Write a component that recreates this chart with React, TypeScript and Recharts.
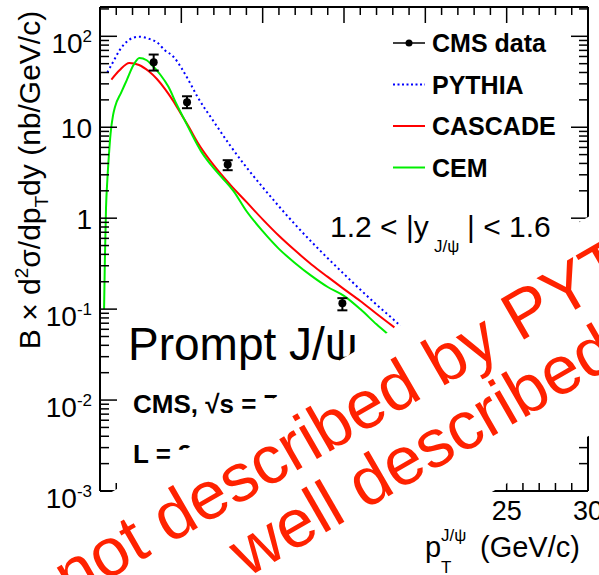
import {
  ComposedChart, Line, Scatter, ErrorBar, XAxis, YAxis, Legend,
} from 'recharts'

// CMS data points (prompt J/psi, 1.2 < |y| < 1.6)
const cmsPt = [3.3, 5.35, 7.85, 14.9]
const cmsXsec = [52, 18.8, 3.9, 0.116]
const cmsErrLow = [10, 2.6, 0.53, 0.019]
const cmsErrHigh = [11, 3.1, 0.44, 0.016]

// PYTHIA prediction
const pythiaPt = [0.45, 0.92, 1.2, 1.64, 2.0, 2.4, 3.0, 3.5, 4.0, 4.5, 5.0, 5.5, 6.0, 7.0, 8.0, 9.0, 10.0, 11.0, 12.0, 13.0, 14.0, 15.0, 16.0, 17.0, 18.0, 18.7]
const pythiaXsec = [40, 57, 70, 87, 96, 99, 94, 86, 70, 60, 45, 31.5, 21.5, 11.5, 6.3, 3.63, 2.19, 1.35, 0.85, 0.55, 0.363, 0.243, 0.164, 0.112, 0.078, 0.06]

// CASCADE prediction
const cascadePt = [0.7, 1.2, 1.8, 2.4, 3.0, 3.5, 4.0, 4.5, 5.0, 5.5, 6.0, 7.0, 8.0, 9.0, 10.0, 11.0, 12.0, 13.0, 14.0, 15.0, 16.0, 17.0, 18.1]
const cascadeXsec = [33.4, 42.3, 51, 48.4, 41.2, 33.9, 26.3, 19.5, 13.8, 9.8, 6.8, 3.8, 2.34, 1.51, 0.97, 0.64, 0.44, 0.31, 0.226, 0.166, 0.123, 0.089, 0.063]

// CEM prediction
const cemPt = [0.25, 0.3, 0.37, 0.45, 0.55, 0.65, 0.8, 0.92, 1.3, 1.64, 2.05, 2.42, 2.87, 3.2, 3.7, 4.2, 4.7, 5.2, 5.7, 6.2, 6.8, 7.5, 8.2, 9.0, 10.0, 11.0, 12.0, 13.0, 14.0, 15.0, 16.0, 17.0, 17.7]
const cemXsec = [0.1, 0.35, 1.3, 2.6, 5, 8.5, 13.5, 16.7, 24, 32.8, 48, 57.8, 54.5, 48, 38, 28, 18, 12, 8, 5.5, 3.9, 2.8, 2.0, 1.2, 0.72, 0.46, 0.32, 0.232, 0.175, 0.14, 0.1, 0.068, 0.053]

// axes
const xTicks = Array.from({ length: 31 }, (_, i) => i)
const xTickLabels = ['0', '5', '10', '15', '20', '25', '30']
const yMajor = [0.001, 0.01, 0.1, 1, 10, 100]
const yMajorBase = ['10', '10', '10', '1', '10', '10']
const yMajorExp = ['-3', '-2', '-1', '', '', '2']
const yTicks = yMajor.flatMap(d => [1, 2, 3, 4, 5, 6, 7, 8, 9].map(m => m * d)).filter(v => v <= 210)

const legendItems = ['CMS data', 'PYTHIA', 'CASCADE', 'CEM']

const FONT = '"Liberation Sans", Arial, Helvetica, sans-serif'

const cmsData = cmsPt.map((x, i) => ({ x, y: cmsXsec[i], err: [cmsErrLow[i], cmsErrHigh[i]] }))
const pythiaData = pythiaPt.map((x, i) => ({ x, y: pythiaXsec[i] }))
const cascadeData = cascadePt.map((x, i) => ({ x, y: cascadeXsec[i] }))
const cemData = cemPt.map((x, i) => ({ x, y: cemXsec[i] }))

const isMajorY = (v: number) => Math.abs(Math.log10(v) - Math.round(Math.log10(v))) < 1e-6

function BottomTick(props: any) {
  const { x, y, payload } = props
  const v = payload.value
  const major = v % 5 === 0
  return (
    <g>
      <line x1={x} x2={x} y1={y} y2={y - (major ? 16 : 8)} stroke="#000" strokeWidth={1.5} />
      {major && (
        <text x={x} y={y + 29} textAnchor="middle" fontSize={27} fontFamily={FONT} fill="#000">
          {xTickLabels[v / 5]}
        </text>
      )}
    </g>
  )
}

function TopTick(props: any) {
  const { x, y, payload } = props
  const major = payload.value % 5 === 0
  return <line x1={x} x2={x} y1={y} y2={y + (major ? 16 : 8)} stroke="#000" strokeWidth={1.5} />
}

function LeftTick(props: any) {
  const { x, y, payload } = props
  const v = payload.value
  const major = isMajorY(v)
  const idx = yMajor.findIndex(m => Math.abs(m - v) < m * 1e-6)
  const exp = idx >= 0 ? yMajorExp[idx] : ''
  return (
    <g>
      <line x1={x} x2={x + (major ? 17 : 9)} y1={y} y2={y} stroke="#000" strokeWidth={1.5} />
      {idx >= 0 && (
        <text x={x - 8} y={y + (exp ? 17 : 11)} textAnchor="end" fontSize={28} fontFamily={FONT} fill="#000">
          {yMajorBase[idx]}
          {exp && <tspan fontSize={17} dy={-11}>{exp}</tspan>}
        </text>
      )}
    </g>
  )
}

function RightTick(props: any) {
  const { x, y, payload } = props
  const major = isMajorY(payload.value)
  return <line x1={x} x2={x - (major ? 17 : 9)} y1={y} y2={y} stroke="#000" strokeWidth={1.5} />
}

function LegendBox() {
  const colors = ['#000', '#0000ff', '#ff0000', '#00ee00']
  return (
    <svg width={214} height={170} style={{ display: 'block' }}>
      {legendItems.map((name, i) => {
        const cy = 23 + i * 41.5
        return (
          <g key={name}>
            <line x1={8} x2={40} y1={cy} y2={cy} stroke={colors[i]} strokeWidth={i === 0 ? 1.5 : 2}
              strokeDasharray={i === 1 ? '2 2.5' : undefined} />
            {i === 0 && <circle cx={24} cy={cy} r={3.5} fill="#000" />}
            <text x={47} y={cy + 9} fontSize={25} fontWeight="bold" fontFamily={FONT} fill="#000">{name}</text>
          </g>
        )
      })}
    </svg>
  )
}

export default function App() {
  return (
    <div style={{ position: 'absolute', left: 0, top: 0, width: 599, height: 575, overflow: 'hidden', background: '#fff', fontFamily: FONT }}>
      <ComposedChart width={599} height={575} margin={{ top: 0, right: 0, left: 0, bottom: 0 }}>
        <XAxis xAxisId="b" type="number" dataKey="x" domain={[0, 30]} ticks={xTicks} interval={0}
          allowDataOverflow height={84} tickSize={0} tickMargin={0} tickLine={false}
          axisLine={{ stroke: '#000', strokeWidth: 2 }} tick={<BottomTick />} />
        <XAxis xAxisId="t" orientation="top" type="number" dataKey="x" domain={[0, 30]} ticks={xTicks} interval={0}
          allowDataOverflow height={7} tickSize={0} tickMargin={0} tickLine={false}
          axisLine={{ stroke: '#000', strokeWidth: 2 }} tick={<TopTick />} />
        <YAxis yAxisId="l" scale="log" type="number" domain={[0.001, 210]} ticks={yTicks} interval={0}
          allowDataOverflow width={100} tickSize={0} tickMargin={0} tickLine={false}
          axisLine={{ stroke: '#000', strokeWidth: 2 }} tick={<LeftTick />} />
        <YAxis yAxisId="r" orientation="right" scale="log" type="number" domain={[0.001, 210]} ticks={yTicks} interval={0}
          allowDataOverflow width={11} tickSize={0} tickMargin={0} tickLine={false}
          axisLine={{ stroke: '#000', strokeWidth: 2 }} tick={<RightTick />} />

        <Line xAxisId="b" yAxisId="l" data={pythiaData} dataKey="y" type="monotone" stroke="#0000ff" strokeWidth={2}
          strokeDasharray="2 3" dot={false} isAnimationActive={false} />
        <Line xAxisId="b" yAxisId="l" data={cascadeData} dataKey="y" type="monotone" stroke="#ff0000" strokeWidth={2}
          dot={false} isAnimationActive={false} />
        <Line xAxisId="b" yAxisId="l" data={cemData} dataKey="y" type="monotone" stroke="#00ee00" strokeWidth={2}
          dot={false} isAnimationActive={false} />
        <Scatter xAxisId="b" yAxisId="l" data={cmsData} dataKey="y" fill="#000" isAnimationActive={false}
          shape={(p: any) => <circle cx={p.cx} cy={p.cy} r={4} fill="#000" />}>
          <ErrorBar dataKey="err" direction="y" width={5} stroke="#000" strokeWidth={2} isAnimationActive={false} />
        </Scatter>

        <Legend layout="vertical" align="center" verticalAlign="middle"
          wrapperStyle={{ left: 385, top: 20, width: 214, height: 170 }} content={() => <LegendBox />} />
      </ComposedChart>

      <svg width={599} height={575} style={{ position: 'absolute', left: 0, top: 0, pointerEvents: 'none' }}
        fontFamily={FONT}>
        {/* y axis title */}
        <text transform="translate(40,180) rotate(-90)" textAnchor="middle" fontSize={30} fill="#000">
          B × d<tspan fontSize={19} dy={-12}>2</tspan><tspan dy={12}>σ/dp</tspan>
          <tspan fontSize={19} dy={8}>T</tspan><tspan dy={-8}>dy (nb/GeV/c)</tspan>
        </text>
        {/* x axis title */}
        <text x={425} y={557} fontSize={29} fill="#000">
          p
          <tspan x={441} y={541} fontSize={17}>J/ψ</tspan>
          <tspan x={441} y={573} fontSize={17}>T</tspan>
          <tspan x={480} y={557}>(GeV/c)</tspan>
        </text>
        {/* rapidity bin */}
        <text x={330} y={237} fontSize={30} fill="#000">
          1.2 &lt; |y<tspan fontSize={17} x={434} y={252}>J/ψ</tspan>
          <tspan x={467} y={237}>| &lt; 1.6</tspan>
        </text>
        <text x={128} y={360} fontSize={46} fill="#000">Prompt J/ψ</text>
        <text x={133} y={413} fontSize={26} fontWeight="bold" fill="#000">CMS, √s = 7 TeV</text>
        <text x={133} y={463} fontSize={26} fontWeight="bold" fill="#000">L = 314 nb<tspan fontSize={17} dy={-10}>-1</tspan></text>

        {/* overlay band */}
        <g transform="translate(588,217) rotate(-30)">
          <rect x={-900} y={0} width={1200} height={190} fill="#fff" />
          <text x={-640} y={74} fontSize={68} fill="#ff2200">not described by PYTHIA</text>
          <text x={-476} y={142} fontSize={68} fill="#ff2200">well described by CASCADE</text>
        </g>
      </svg>
    </div>
  )
}
